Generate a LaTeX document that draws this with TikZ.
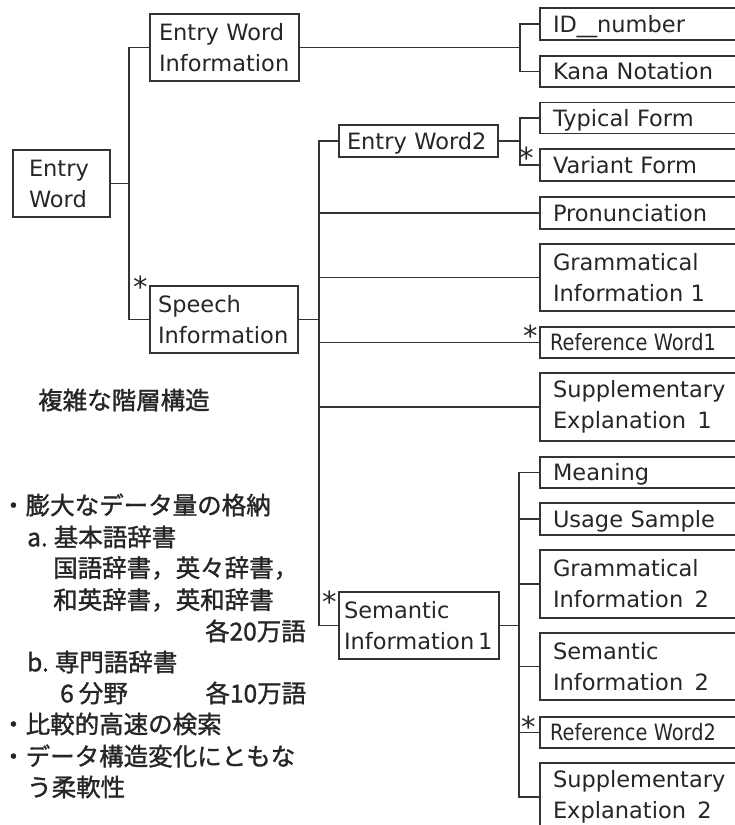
\documentclass[tikz,border=0pt]{standalone}
\usepackage{fontspec}
\setmainfont{DejaVu Sans}
\newfontfamily\jpfont[FakeBold=1.3]{Noto Sans CJK JP}
\newcommand\mybox[9][]{\node[bx, minimum width=#5pt, minimum height=#6pt, inner xsep=#7pt, text width=#8pt, #1] (#2) at (#3,#4) {#9};}
\begin{document}
\begin{tikzpicture}[x=1pt,y=-1pt,
  line/.style={line width=1.4pt, draw=black!80},
  bx/.style={draw=black!80, line width=1.4pt, inner ysep=0pt, outer sep=0pt, align=left,
    font=\fontsize{22.5}{31}\selectfont, text=black!85},
  one/.style={text height=18pt, text depth=2pt},
  jtxt/.style={font=\jpfont\fontsize{24.5}{31}\selectfont, text=black!85, inner sep=0pt, anchor=west},
  star/.style={font=\fontsize{29}{29}\selectfont, inner sep=0pt, anchor=north, text=black!85}]
\useasboundingbox (0,0) rectangle (735,825);
\clip (0,0) rectangle (735,825);
% left boxes
\mybox{ew}{61.5}{183.5}{97}{67}{16}{65}{Entry\\Word}
\mybox{ewi}{224.5}{47.5}{149}{67}{9}{131}{Entry Word\\Information}
\mybox{si}{224}{319.5}{148}{67}{8}{132}{Speech\\Information}
\mybox[one]{ew2}{418.5}{141}{159}{32}{8}{143}{Entry Word2}
\mybox{sem1}{419}{625.5}{160}{67}{5}{150}{Semantic\\Information\,1}
% right boxes
\mybox[one]{id}{638.5}{24}{197}{32}{13}{171}{ID\scalebox{1.8}[1]{\_}number}
\mybox[one]{kana}{638.5}{71.5}{197}{31}{13}{171}{Kana Notation}
\mybox[one]{typ}{638.5}{118}{197}{31}{13}{171}{Typical Form}
\mybox[one]{var}{638.5}{165}{197}{32}{13}{171}{Variant Form}
\mybox[one]{pron}{638.5}{213}{197}{32}{13}{171}{Pronunciation}
\mybox{gram1}{638.5}{277.5}{197}{67}{13}{171}{Grammatical\\Information 1}
\mybox[one]{ref1}{638.5}{342.5}{197}{31}{10}{177}{\scalebox{0.86}[1]{Reference Word1}}
\mybox{supp1}{638.5}{407}{197}{68}{13}{171}{Supplementary\\Explanation\, 1}
\mybox[one]{mean}{638.5}{472.5}{197}{31}{13}{171}{Meaning}
\mybox[one]{usage}{638.5}{519}{197}{32}{13}{171}{Usage Sample}
\mybox{gram2}{638.5}{584}{197}{68}{13}{171}{Grammatical\\Information\, 2}
\mybox{sem2}{638.5}{666.5}{197}{67}{13}{171}{Semantic\\Information\, 2}
\mybox[one]{ref2}{638.5}{732.5}{197}{31}{10}{177}{\scalebox{0.86}[1]{Reference Word2}}
\mybox{supp2}{638.5}{797}{197}{68}{13}{171}{Supplementary\\Explanation\, 2}
% junctions
\coordinate (j1) at (129,183.5);
\coordinate (j2) at (520,47.5);
\coordinate (j3) at (319,319.5);
\coordinate (j4) at (520,141);
\coordinate (j5) at (519,625.5);
% connectors
\draw[line] (ew.east) -- (j1);
\draw[line] (ewi.west) -| (j1) |- (si.west);
\draw[line] (ewi.east) -- (j2);
\draw[line] (id.west) -| (j2) |- (kana.west);
\draw[line] (si.east) -- (j3);
\draw[line] (ew2.west) -| (j3) |- (sem1.west);
\draw[line] (pron.west) -- (pron.west -| j3);
\draw[line] (gram1.west) -- (gram1.west -| j3);
\draw[line] (ref1.west) -- (ref1.west -| j3);
\draw[line] (supp1.west) -- (supp1.west -| j3);
\draw[line] (ew2.east) -- (j4);
\draw[line] (typ.west) -| (j4) |- (var.west);
\draw[line] (sem1.east) -- (j5);
\draw[line] (mean.west) -| (j5) |- (supp2.west);
\draw[line] (usage.west) -- (usage.west -| j5);
\draw[line] (gram2.west) -- (gram2.west -| j5);
\draw[line] (sem2.west) -- (sem2.west -| j5);
\draw[line] (ref2.west) -- (ref2.west -| j5);
% stars
\node[star] (s1) at (141,276) {*};
\node[star] (s2) at (527,147) {*};
\node[star] (s3) at (531,325) {*};
\node[star] (s4) at (330,591) {*};
\node[star] (s5) at (529,716) {*};
% japanese text
\node[jtxt] (t0) at (38,400) {複雑な階層構造};
\node[jtxt] (t1) at (1,505) {・膨大なデータ量の格納};
\node[jtxt] (t2) at (27,537) {a.\hspace{6pt}基本語辞書};
\node[jtxt] (t3) at (53,568) {国語辞書，英々辞書，};
\node[jtxt] (t4) at (53,600) {和英辞書，英和辞書};
\node[jtxt, anchor=east] (t5) at (306,631) {各20万語};
\node[jtxt] (t6) at (27,662) {b.\hspace{6pt}専門語辞書};
\node[jtxt] (t7) at (60,693) {\makebox[246pt][l]{6\hspace{5pt}分野\hfill 各10万語}};
\node[jtxt] (t8) at (1,724) {・比較的高速の検索};
\node[jtxt] (t9) at (1,756) {・データ構造変化にともな};
\node[jtxt] (t10) at (27,787) {う柔軟性};
\end{tikzpicture}
\end{document}
